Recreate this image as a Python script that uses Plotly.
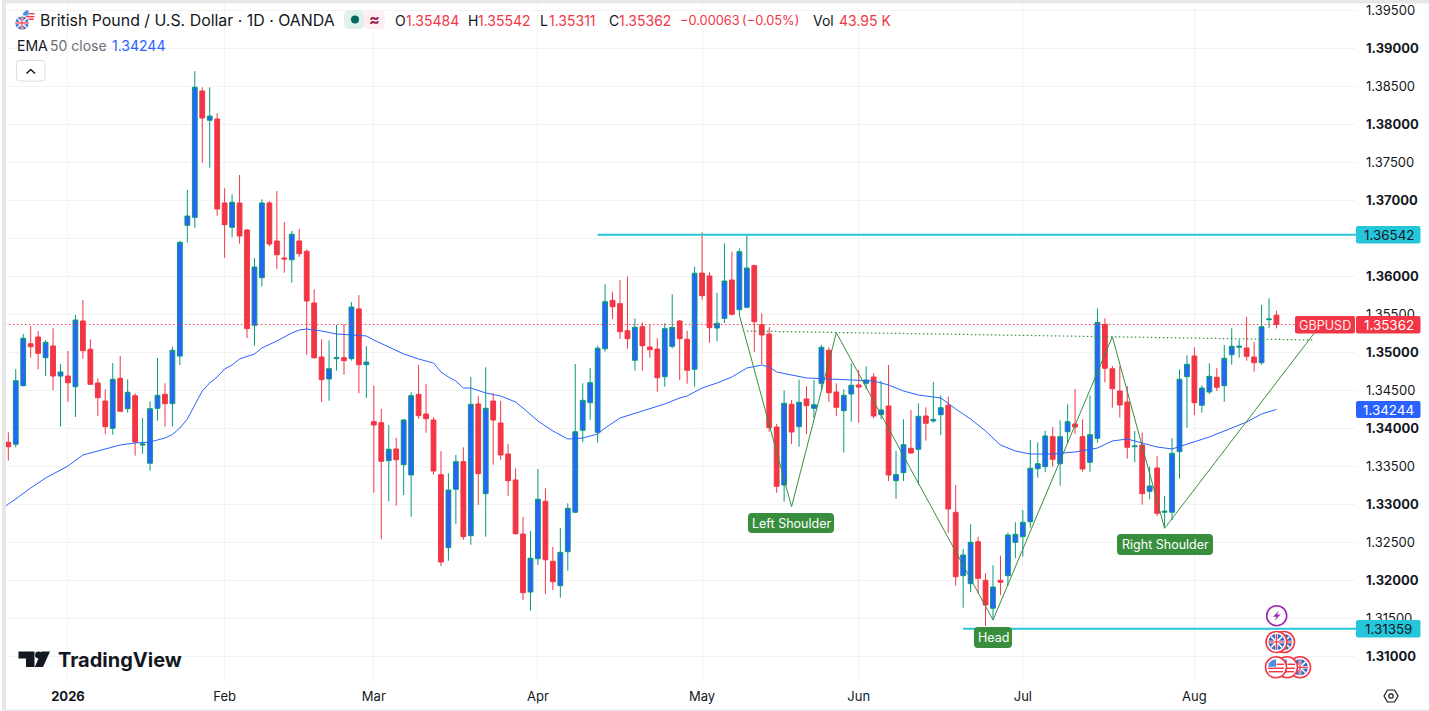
import plotly.graph_objects as go

# ==========================================================================
# Data (GBPUSD 1D, one entry per session)
# ==========================================================================
opens = [
    1.33812, 1.33786, 1.34557, 1.35109, 1.35197, 1.34925, 1.35079, 1.34684, 1.34684, 1.34543,
    1.35408, 1.35036, 1.34592, 1.34355, 1.33996, 1.34654, 1.34254, 1.34425, 1.33776, 1.33536,
    1.34259, 1.34443, 1.34320, 1.34947, 1.36667, 1.36772, 1.38434, 1.38049, 1.38066, 1.36961,
    1.36641, 1.36961, 1.36605, 1.35351, 1.35978, 1.36961, 1.36461, 1.36237, 1.36214, 1.36461,
    1.36325, 1.35645, 1.34934, 1.34645, 1.34912, 1.34925, 1.34912, 1.35566, 1.34833, 1.34083,
    1.34070, 1.33570, 1.33724, 1.33517, 1.33382, 1.34443, 1.34184, 1.34105, 1.33386, 1.32425,
    1.33193, 1.33557, 1.32583, 1.34316, 1.33136, 1.34355, 1.34066, 1.33658, 1.33316, 1.32605,
    1.31842, 1.32280, 1.33036, 1.32246, 1.31925, 1.32372, 1.32891, 1.33970, 1.34333, 1.33943,
    1.35043, 1.35680, 1.35636, 1.35280, 1.34891, 1.35333, 1.35066, 1.35039, 1.34675, 1.35075,
    1.35408, 1.35167, 1.34772, 1.36039, 1.36000, 1.35316, 1.35443, 1.35947, 1.35557, 1.35588,
    1.36136, 1.35359, 1.35237, 1.34013, 1.33250, 1.34312, 1.34017, 1.34382, 1.34259, 1.34588,
    1.35022, 1.34474, 1.34228, 1.34447, 1.34566, 1.34588, 1.34671, 1.34175, 1.34290, 1.33307,
    1.33412, 1.33733, 1.33720, 1.34158, 1.34092, 1.34175, 1.34299, 1.32891, 1.32057, 1.31951,
    1.32504, 1.31996, 1.31628, 1.31996, 1.32057, 1.32496, 1.32570, 1.32767, 1.33464, 1.33491,
    1.33886, 1.33530, 1.33951, 1.34053, 1.33886, 1.33549, 1.33864, 1.35364, 1.34780, 1.34487,
    1.34342, 1.33754, 1.33776, 1.33167, 1.33474, 1.32891, 1.32891, 1.33688, 1.34675, 1.34947,
    1.34299, 1.34474, 1.34667, 1.34557, 1.34964, 1.35062, 1.35053, 1.34934, 1.34859, 1.35425,
    1.35484,
]
highs = [
    1.33943, 1.34776, 1.35237, 1.35342, 1.35276, 1.35158, 1.35312, 1.34842, 1.35013, 1.35487,
    1.35684, 1.35167, 1.34654, 1.34509, 1.34855, 1.34947, 1.34641, 1.34457, 1.34132, 1.34351,
    1.34921, 1.34588, 1.35070, 1.36461, 1.37132, 1.38697, 1.38483, 1.38483, 1.38141, 1.37154,
    1.37075, 1.37329, 1.36620, 1.36237, 1.37009, 1.36987, 1.37118, 1.36711, 1.36592, 1.36618,
    1.36351, 1.35825, 1.35167, 1.35154, 1.35355, 1.35368, 1.35658, 1.35750, 1.35079, 1.34557,
    1.34250, 1.34039, 1.33872, 1.34118, 1.34470, 1.34829, 1.34579, 1.34141, 1.33697, 1.33404,
    1.33645, 1.33746, 1.34671, 1.34421, 1.34799, 1.34457, 1.34355, 1.33790, 1.33470, 1.32829,
    1.32645, 1.33461, 1.33207, 1.32434, 1.32684, 1.33009, 1.34842, 1.34588, 1.34789, 1.35083,
    1.35891, 1.35793, 1.35947, 1.35991, 1.35443, 1.35391, 1.35355, 1.35180, 1.35378, 1.35759,
    1.35420, 1.35280, 1.36122, 1.36575, 1.36049, 1.35780, 1.36430, 1.36320, 1.36364, 1.36539,
    1.36150, 1.35509, 1.35325, 1.34053, 1.34496, 1.34368, 1.34636, 1.34549, 1.34632, 1.35092,
    1.35062, 1.34588, 1.34509, 1.34851, 1.34763, 1.34812, 1.34720, 1.34622, 1.34829, 1.33697,
    1.34114, 1.34237, 1.34325, 1.34272, 1.34605, 1.34430, 1.34412, 1.33250, 1.32408, 1.32733,
    1.32570, 1.32088, 1.32193, 1.32320, 1.32622, 1.32759, 1.32921, 1.33842, 1.33812, 1.33964,
    1.34013, 1.34101, 1.34312, 1.34513, 1.34114, 1.34430, 1.35575, 1.35443, 1.34816, 1.34816,
    1.34553, 1.33961, 1.33938, 1.33491, 1.33632, 1.33105, 1.33868, 1.34772, 1.34957, 1.35062,
    1.34562, 1.34851, 1.34786, 1.35092, 1.35312, 1.35158, 1.35461, 1.35132, 1.35618, 1.35707,
    1.35542,
]
lows = [
    1.33570, 1.33746, 1.34550, 1.34925, 1.34772, 1.34684, 1.34500, 1.34017, 1.34346, 1.34145,
    1.34912, 1.34566, 1.34158, 1.33921, 1.33912, 1.34210, 1.34201, 1.33636, 1.33662, 1.33438,
    1.34096, 1.34017, 1.34017, 1.34829, 1.36438, 1.36636, 1.37491, 1.37425, 1.36793, 1.36241,
    1.36509, 1.36425, 1.35184, 1.35083, 1.35864, 1.36391, 1.36092, 1.36043, 1.35912, 1.36250,
    1.34961, 1.34910, 1.34342, 1.34359, 1.34754, 1.34701, 1.34886, 1.34457, 1.34395, 1.33149,
    1.32536, 1.33036, 1.32978, 1.33118, 1.32833, 1.34122, 1.33938, 1.33386, 1.32184, 1.32254,
    1.32737, 1.32530, 1.32464, 1.32987, 1.32570, 1.33517, 1.33583, 1.33105, 1.32595, 1.31737,
    1.31596, 1.32197, 1.31816, 1.31868, 1.31767, 1.32122, 1.32880, 1.33812, 1.34105, 1.33807,
    1.35004, 1.35434, 1.35171, 1.35043, 1.34754, 1.34754, 1.34925, 1.34478, 1.34543, 1.35049,
    1.34632, 1.34583, 1.34543, 1.35688, 1.35122, 1.35141, 1.35382, 1.35478, 1.35487, 1.35575,
    1.35000, 1.34838, 1.33951, 1.33149, 1.33030, 1.33789, 1.33754, 1.33921, 1.34132, 1.34500,
    1.34342, 1.34158, 1.33675, 1.34083, 1.34070, 1.34509, 1.34128, 1.34114, 1.33303, 1.33066,
    1.33303, 1.33660, 1.33250, 1.33833, 1.34070, 1.33908, 1.32622, 1.31925, 1.31636, 1.31838,
    1.31825, 1.31395, 1.31474, 1.31803, 1.31921, 1.32289, 1.32307, 1.32688, 1.33346, 1.33417,
    1.33491, 1.33241, 1.33799, 1.33921, 1.33425, 1.33425, 1.33807, 1.34601, 1.34267, 1.34136,
    1.33596, 1.33549, 1.32991, 1.33062, 1.32842, 1.32701, 1.32789, 1.33333, 1.34004, 1.34171,
    1.34201, 1.34447, 1.34487, 1.34346, 1.34833, 1.34925, 1.34886, 1.34741, 1.34833, 1.35312,
    1.35311,
]
closes = [
    1.33754, 1.34622, 1.35180, 1.35070, 1.34983, 1.35128, 1.34684, 1.34737, 1.34596, 1.35421,
    1.35017, 1.34575, 1.34399, 1.34017, 1.34641, 1.34220, 1.34470, 1.33816, 1.33789, 1.34254,
    1.34430, 1.34320, 1.35022, 1.36443, 1.36789, 1.38483, 1.38079, 1.38105, 1.36882, 1.36675,
    1.36970, 1.36526, 1.35307, 1.36118, 1.36961, 1.36421, 1.36280, 1.36224, 1.36549, 1.36293,
    1.35671, 1.34925, 1.34636, 1.34780, 1.34925, 1.34886, 1.35592, 1.34833, 1.34868, 1.34039,
    1.33562, 1.33720, 1.33583, 1.34105, 1.34425, 1.34162, 1.34122, 1.33434, 1.32237, 1.33184,
    1.33557, 1.32570, 1.34312, 1.33399, 1.34259, 1.34105, 1.33645, 1.33307, 1.32609, 1.31833,
    1.32286, 1.33062, 1.32267, 1.31978, 1.32364, 1.32943, 1.33951, 1.34364, 1.34596, 1.35049,
    1.35662, 1.35596, 1.35267, 1.35175, 1.35325, 1.35083, 1.35030, 1.34662, 1.35307, 1.35325,
    1.35175, 1.34759, 1.36036, 1.35741, 1.35320, 1.35378, 1.35934, 1.35496, 1.36320, 1.36105,
    1.35399, 1.35224, 1.34004, 1.33233, 1.34325, 1.33947, 1.34338, 1.34294, 1.34307, 1.35062,
    1.34464, 1.34272, 1.34430, 1.34562, 1.34539, 1.34632, 1.34158, 1.34237, 1.33382, 1.33386,
    1.33780, 1.33671, 1.34154, 1.34062, 1.34114, 1.34267, 1.32934, 1.32043, 1.32329, 1.32496,
    1.32022, 1.31671, 1.31908, 1.31970, 1.32592, 1.32601, 1.32759, 1.33470, 1.33530, 1.33895,
    1.33588, 1.33886, 1.34083, 1.34013, 1.33461, 1.33912, 1.35390, 1.34786, 1.34517, 1.34303,
    1.33746, 1.33763, 1.33136, 1.33237, 1.32878, 1.32904, 1.33667, 1.34641, 1.34838, 1.34333,
    1.34526, 1.34680, 1.34536, 1.34917, 1.35075, 1.35075, 1.34943, 1.34859, 1.35333, 1.35434,
    1.35362,
]
bars = list(range(len(opens)))

# EMA 50, sampled along the line
ema_bars = [
    -1, 0, 1, 3, 5, 8, 10, 12, 15, 17, 19, 21, 22, 23, 24, 25, 26, 27, 28, 29, 30, 31, 33, 34, 36,
    38, 39, 40, 42, 44, 46, 48, 49, 51, 53, 55, 57, 58, 59, 60, 61, 62, 64, 66, 68, 69, 71, 73, 75,
    77, 79, 80, 82, 85, 88, 90, 91, 93, 95, 97, 99, 101, 102, 103, 105, 107, 110, 114, 116, 118,
    120, 122, 124, 125, 127, 129, 131, 133, 135, 137, 140, 143, 146, 148, 150, 152, 154, 156, 158,
    161, 164, 166, 168, 170,
]
ema_values = [
    1.32921, 1.33000, 1.33066, 1.33211, 1.33342, 1.33500, 1.33645, 1.33697, 1.33776, 1.33803,
    1.33816, 1.33868, 1.33914, 1.34000, 1.34118, 1.34303, 1.34487, 1.34592, 1.34671, 1.34776,
    1.34829, 1.34908, 1.34974, 1.35053, 1.35145, 1.35250, 1.35289, 1.35303, 1.35276, 1.35237,
    1.35224, 1.35211, 1.35158, 1.35066, 1.34974, 1.34908, 1.34855, 1.34737, 1.34671, 1.34618,
    1.34526, 1.34526, 1.34461, 1.34421, 1.34342, 1.34263, 1.34092, 1.33961, 1.33855, 1.33868,
    1.33921, 1.34000, 1.34132, 1.34224, 1.34316, 1.34395, 1.34421, 1.34526, 1.34592, 1.34671,
    1.34789, 1.34829, 1.34803, 1.34737, 1.34697, 1.34658, 1.34645, 1.34632, 1.34618, 1.34566,
    1.34487, 1.34434, 1.34408, 1.34395, 1.34250, 1.34118, 1.33961, 1.33776, 1.33697, 1.33658,
    1.33658, 1.33684, 1.33737, 1.33829, 1.33855, 1.33803, 1.33750, 1.33724, 1.33789, 1.33882,
    1.34000, 1.34079, 1.34184, 1.34244,
]

# Head and shoulders drawing
pattern_bars = [98, 105, 111, 132, 148, 155, 176]
pattern_prices = [1.35487, 1.32964, 1.35254, 1.31474, 1.35201, 1.32680, 1.35368]
neck_bars = [99, 175]
neck_prices = [1.35276, 1.35158]
pattern_labels = ["Left Shoulder", "Head", "Right Shoulder"]

# Support / resistance levels
level_high = 1.36542
level_high_start = 79
level_low = 1.31359
level_low_start = 128
last_close = 1.35362
last_ema = 1.34244

# Axis ticks
price_ticks = [1.31 + i * 0.005 for i in range(18)]
month_bars = [8, 29, 49, 71, 93, 114, 136, 159]
month_labels = ["<b>2026</b>", "Feb", "Mar", "Apr", "May", "Jun", "Jul", "Aug"]

# Legend values
ohlc_text = ["1.35484", "1.35542", "1.35311", "1.35362"]

# ==========================================================================
# Colours and layout box
# ==========================================================================
INK = "#131722"
GREY = "#6a6d78"
GRID = "#f3f3f4"
UP_BODY = "#2962ff"
UP_LINE = "#089981"
DOWN = "#f23645"
CYAN = "#26c6da"
GREEN = "#388e3c"
FONT = "Inter"

PLOT_L, PLOT_R, PLOT_T, PLOT_B = 6, 1356, 4, 681


def xp(px):
    return (px - PLOT_L) / (PLOT_R - PLOT_L)


def yp(py):
    return (PLOT_B - py) / (PLOT_B - PLOT_T)


shapes = []
annotations = []


def text(x, y, s, size=13, color=INK, anchor="left"):
    annotations.append(dict(
        x=xp(x), y=yp(y), xref="paper", yref="paper", text=s, showarrow=False,
        xanchor=anchor, yanchor="middle", borderpad=0,
        font=dict(family=FONT, size=size, color=color),
    ))


def box(x0, y0, x1, y1, fill, radius=0, line=None):
    r = radius
    path = (
        f"M {xp(x0 + r)} {yp(y0)} L {xp(x1 - r)} {yp(y0)} Q {xp(x1)} {yp(y0)} {xp(x1)} {yp(y0 + r)} "
        f"L {xp(x1)} {yp(y1 - r)} Q {xp(x1)} {yp(y1)} {xp(x1 - r)} {yp(y1)} "
        f"L {xp(x0 + r)} {yp(y1)} Q {xp(x0)} {yp(y1)} {xp(x0)} {yp(y1 - r)} "
        f"L {xp(x0)} {yp(y0 + r)} Q {xp(x0)} {yp(y0)} {xp(x0 + r)} {yp(y0)} Z"
    )
    shapes.append(dict(
        type="path", path=path, xref="paper", yref="paper", fillcolor=fill, layer="above",
        line=dict(color=line or fill, width=1 if line else 0),
    ))


def circle(cx, cy, r, fill, line=None, width=1):
    shapes.append(dict(
        type="circle", xref="paper", yref="paper", layer="above",
        x0=xp(cx - r), x1=xp(cx + r), y0=yp(cy + r), y1=yp(cy - r), fillcolor=fill,
        line=dict(color=line or fill, width=width if line else 0),
    ))


def seg(x0, y0, x1, y1, color, width=1):
    shapes.append(dict(
        type="line", xref="paper", yref="paper", layer="above",
        x0=xp(x0), x1=xp(x1), y0=yp(y0), y1=yp(y1), line=dict(color=color, width=width),
    ))


def poly(points, fill=None, line=None, width=1, close=True):
    path = "M " + " L ".join(f"{xp(x)} {yp(y)}" for x, y in points) + (" Z" if close else "")
    shapes.append(dict(
        type="path", path=path, xref="paper", yref="paper", layer="above",
        fillcolor=fill if fill else "rgba(0,0,0,0)",
        line=dict(color=line or "rgba(0,0,0,0)", width=width if line else 0),
    ))


def uk_flag(cx, cy, r=10.5, ring=True):
    if ring:
        circle(cx, cy, r, "white", DOWN, 1.6)
    inner = r - 2.5 if ring else r
    circle(cx, cy, inner, "#3068c4")
    d = inner * 0.68
    seg(cx - d, cy - d, cx + d, cy + d, "white", 1.6)
    seg(cx - d, cy + d, cx + d, cy - d, "white", 1.6)
    seg(cx - inner, cy, cx + inner, cy, "white", 2.6)
    seg(cx, cy - inner, cx, cy + inner, "white", 2.6)
    seg(cx - inner, cy, cx + inner, cy, DOWN, 1.2)
    seg(cx, cy - inner, cx, cy + inner, DOWN, 1.2)


def us_flag(cx, cy, r=10.5, ring=True):
    if ring:
        circle(cx, cy, r, "white", DOWN, 1.6)
    inner = r - 2.5 if ring else r
    circle(cx, cy, inner, "white")
    k = inner / 8
    seg(cx - 8 * k, cy + 1 * k, cx + 8 * k, cy + 1 * k, DOWN, 1.4)
    seg(cx - 7 * k, cy + 4.4 * k, cx + 7 * k, cy + 4.4 * k, DOWN, 1.4)
    seg(cx + 0.5 * k, cy - 3 * k, cx + 8 * k, cy - 3 * k, DOWN, 1.4)
    poly([(cx - 7.6 * k, cy - 0.6 * k), (cx - 7 * k, cy - 4 * k), (cx - 4 * k, cy - 7 * k),
          (cx, cy - 8 * k), (cx, cy - 0.6 * k)], fill="#4a90e2")


# ==========================================================================
# Card edge, header, legend
# ==========================================================================
box(2, 0, 6, 711, "#e7e7e7")
box(2, 0, 1429, 3.5, "#e7e7e7")
box(2, 709.5, 1429, 711, "#e7e7e7")

us_flag(28.5, 16, 6, ring=False)
circle(22, 23, 7.6, "white")
uk_flag(22, 23, 6.6, ring=False)
text(39, 20.5, "British Pound / U.S. Dollar · 1D · OANDA", 15.9)

box(344, 10, 365, 29, "#e0f1ed", 6)
box(364, 10, 385, 29, "#fdeef3", 6)
circle(355, 19.5, 4, "#00695c")
text(374.5, 19, "<b>≈</b>", 16, "#9c1f4f", "center")

legend_items = [
    (394, "O", INK, 14), (405, ohlc_text[0], DOWN, 14), (467, "H", INK, 14), (477, ohlc_text[1], DOWN, 14),
    (539, "L", INK, 14), (548, ohlc_text[2], DOWN, 14), (608, "C", INK, 14), (618, ohlc_text[3], DOWN, 14),
    (679, "−0.00063", DOWN, 12.8), (741, "(−0.05%)", DOWN, 12.8), (812, "Vol", INK, 14),
    (838, "43.95 K", DOWN, 14),
]
for x, s, c, size in legend_items:
    text(x, 20.5, s, size, c)

text(16, 45.5, "EMA", 14)
text(49, 45.5, "50 close", 14, GREY)
text(111, 45.5, "1.34244", 14, UP_BODY)

box(16.5, 60.5, 45, 81, "white", 3, "#dcdde0")
poly([(26.5, 73.5), (30.7, 69.5), (35, 73.5)], line=INK, width=1.5, close=False)

# TradingView mark
poly([(18.5, 651.5), (34.5, 651.5), (34.5, 667), (26, 667), (26, 658.5), (18.5, 658.5)], fill=INK)
circle(38.5, 655, 3.4, INK)
poly([(41.5, 651.5), (50, 651.5), (43, 667), (34.8, 667)], fill=INK)
text(57, 659.5, "<b>TradingView</b>", 20, INK)

# ==========================================================================
# Pattern labels and axis price tags
# ==========================================================================
box(748, 513, 834, 533, GREEN, 4)
text(791, 523, pattern_labels[0], 12.5, "white", "center")
box(974, 627, 1012, 648, GREEN, 4)
text(993, 637.5, pattern_labels[1], 12.5, "white", "center")
box(1117, 534, 1213, 555, GREEN, 4)
text(1165, 544.5, pattern_labels[2], 12.5, "white", "center")

box(1295, 316, 1355, 333.5, DOWN, 2)
text(1325, 325, "GBPUSD", 12.6, "#ffe9ec", "center")
box(1356, 316, 1420.5, 333.5, DOWN, 2)
text(1388.5, 325, f"{last_close:.5f}", 13.4, "white", "center")
box(1356, 401, 1420.5, 418, UP_BODY, 2)
text(1388.5, 409.5, f"{last_ema:.5f}", 13.4, "white", "center")
box(1356, 226, 1420.5, 243.5, CYAN, 2)
text(1388.5, 235, f"{level_high:.5f}", 13.4, INK, "center")
box(1356, 620, 1420.5, 637.5, CYAN, 2)
text(1388.5, 629, f"{level_low:.5f}", 13.4, INK, "center")

# Settings hexagon, bottom right
poly([(1384, 696), (1387.5, 690), (1394.5, 690), (1398, 696), (1394.5, 702), (1387.5, 702)],
     line=INK, width=1.2)
circle(1391, 696, 2.2, "white", INK, 1.2)

# Event markers
circle(1276.7, 615.7, 10, "white", "#9c27b0", 1.6)
poly([(1279, 610.5), (1273, 616.8), (1276.5, 616.8), (1274.5, 621), (1280.5, 614.6), (1277, 614.6)],
     fill="#9c27b0")
uk_flag(1284, 642)
uk_flag(1276.5, 642)
uk_flag(1300, 667.3)
us_flag(1287, 667.3)
us_flag(1276, 667.3)

# ==========================================================================
# Chart
# ==========================================================================
fig = go.Figure()

fig.add_trace(go.Scatter(
    x=[-1, 181], y=[last_close, last_close], mode="lines", hoverinfo="skip",
    line=dict(color=DOWN, width=1.2, dash="1.5px,2.5px"),
))
fig.add_trace(go.Scatter(
    x=neck_bars, y=neck_prices, mode="lines", hoverinfo="skip",
    line=dict(color=GREEN, width=1.2, dash="1.5px,2.5px"),
))
fig.add_trace(go.Candlestick(
    x=bars, open=opens, high=highs, low=lows, close=closes, name="GBPUSD",
    whiskerwidth=0,
    increasing=dict(line=dict(color=UP_LINE, width=1), fillcolor=UP_BODY),
    decreasing=dict(line=dict(color=DOWN, width=1), fillcolor=DOWN),
))
fig.add_trace(go.Scatter(
    x=ema_bars, y=ema_values, mode="lines", name="EMA 50",
    line=dict(color=UP_BODY, width=1),
))
fig.add_trace(go.Scatter(
    x=pattern_bars, y=pattern_prices, mode="lines", hoverinfo="skip",
    line=dict(color=GREEN, width=1),
))
fig.add_trace(go.Scatter(
    x=[level_high_start, 181], y=[level_high, level_high], mode="lines", hoverinfo="skip",
    line=dict(color=CYAN, width=2),
))
fig.add_trace(go.Scatter(
    x=[level_low_start, 181], y=[level_low, level_low], mode="lines", hoverinfo="skip",
    line=dict(color=CYAN, width=2),
))

price_text = []
for tick in price_ticks:
    label = f"{tick:.5f}"
    price_text.append(f"<b>{label}</b>" if round(tick * 1000) % 10 == 0 else label)

fig.update_layout(
    width=1429,
    height=711,
    autosize=False,
    showlegend=False,
    boxgap=0.2,
    boxgroupgap=0.2,
    paper_bgcolor="white",
    plot_bgcolor="white",
    margin=dict(l=PLOT_L, r=1429 - PLOT_R, t=PLOT_T, b=711 - PLOT_B, autoexpand=False),
    font=dict(family=FONT, size=13, color=INK),
    shapes=shapes,
    annotations=annotations,
    xaxis=dict(
        range=[-0.308, 180.66],
        tickmode="array",
        tickvals=month_bars,
        ticktext=month_labels,
        ticks="",
        ticklabelstandoff=6,
        showgrid=True,
        gridcolor=GRID,
        gridwidth=1,
        zeroline=False,
        showline=False,
        rangeslider=dict(visible=False),
    ),
    yaxis=dict(
        side="right",
        range=[1.30671, 1.39579],
        tickmode="array",
        tickvals=price_ticks,
        ticktext=price_text,
        ticks="",
        ticklabelstandoff=9,
        showgrid=True,
        gridcolor=GRID,
        gridwidth=1,
        zeroline=False,
        showline=False,
    ),
)

fig.write_html(
    "out.html",
    config={"displayModeBar": False},
    post_script="document.body.style.margin='0';",
)
